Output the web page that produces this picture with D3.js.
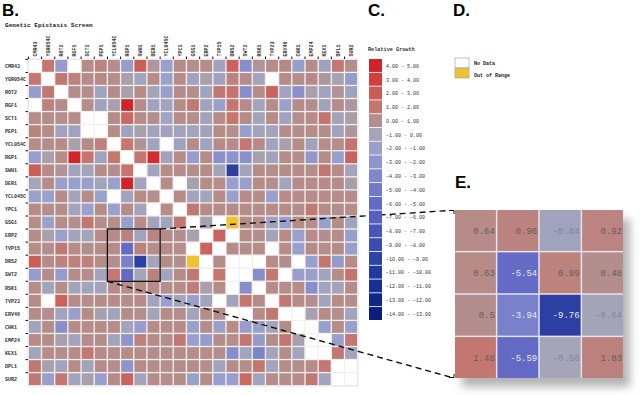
<!DOCTYPE html>
<html>
<head>
<meta charset="utf-8">
<script src="https://cdn.jsdelivr.net/npm/d3@7/dist/d3.min.js"></script>
<style>
  body { margin: 0; background: #fff; }
  svg { display: block; }
  text { font-family: "Liberation Mono", "DejaVu Sans Mono", monospace; }
  .panel { font-family: "Liberation Sans", Arial, sans-serif; font-weight: bold; font-size: 17px; }
</style>
</head>
<body>
<svg id="chart" width="640" height="395"></svg>
<script>
// gene names (rows and columns are the same list)
const genes = ["CMR43", "YGR054C", "ROT2", "RGF1", "SCT1", "PEP1", "YCL054C", "RGP1",
  "SWH1", "DER1", "YCL045C", "YPC1", "GSG1", "ERP2", "TVP15", "DRS2", "SWT2", "RSK1",
  "TVP23", "ERV46", "CHK1", "EMP24", "KEX1", "DPL1", "SUR2"];

// relative growth, null = no data, "OOR" = out of range
const growth = [
  [null, 1.5, -1.8, null, 0.6, 0.9, 0.5, -1.8, 2.4, 0.1, -1.5, 0.6, 0.5, 0.6, -0.9, 2.2, -3.0, 0.2, 0.6, 0.7, -1.6, 0.6, -0.9, 1.4, 0.5],
  [1.5, null, 1.4, 1.0, 0.6, 0.7, 0.5, -0.3, -0.8, 0.6, -1.4, 0.6, -0.9, -0.3, -0.9, 1.0, 0.6, -0.8, null, 0.6, 0.5, 0.7, 0.1, -0.4, -1.9],
  [-1.8, 1.4, null, 0.6, 0.5, -0.9, 0.6, -0.3, 0.6, -0.7, -1.5, 0.6, 0.5, -1.0, 1.4, 1.6, -3.0, 0.6, 2.2, -0.9, -2.8, -0.3, -0.9, 0.2, -0.9],
  [null, 1.0, 0.6, null, 0.5, -0.9, -0.3, 4.6, 0.6, -0.9, -1.0, 0.6, 1.4, -0.9, -1.5, 1.5, 0.6, -0.7, 0.6, -1.5, 0.6, 0.5, -0.9, 0.6, 0.1],
  [0.6, 0.6, 0.5, 0.6, null, null, 0.6, 2.0, 0.6, 0.5, -1.0, 0.6, 0.5, -0.9, 0.6, 1.5, 0.6, -0.7, 0.6, -0.9, 0.5, 0.6, 1.6, -0.7, -0.2],
  [1.0, 0.6, -0.9, -0.9, null, null, 0.6, -0.9, -0.3, -0.9, -0.9, -0.9, -0.8, -0.9, 0.6, 0.5, -1.6, -0.9, -0.8, 0.6, 0.5, 0.6, 0.6, -0.9, 0.1],
  [0.6, 0.5, 0.6, -0.3, 0.6, 1.0, null, 1.5, 0.2, -0.9, null, -0.9, 0.6, -0.9, 0.6, 0.5, 1.5, 0.6, -0.9, -0.3, 0.6, -0.9, 0.6, 0.5, 1.6],
  [-1.6, -0.3, 0.6, 4.6, 1.5, -0.9, 1.5, null, 1.5, 4.2, -0.9, 0.6, -1.8, 0.6, -2.8, -2.6, -2.8, -0.3, -0.9, 0.6, 0.5, -2.2, 0.6, -1.6, 2.2],
  [2.4, 0.6, 0.2, -0.8, -0.8, 0.6, 0.5, 1.5, null, -0.8, 0.6, 0.6, 0.5, 0.6, -0.8, -9.8, -0.8, 0.6, 0.5, 0.6, 0.6, 0.5, 1.4, 0.6, -0.8],
  [-0.6, 0.6, -1.5, -1.5, -1.5, -0.8, -1.5, 4.5, -0.8, null, 0.6, null, -0.3, 0.6, 0.5, -1.6, -1.5, 0.6, 0.5, -0.8, 0.6, 0.5, 0.6, 0.6, -0.2],
  [-1.5, -1.5, 0.6, -0.8, 0.6, -1.5, null, -0.8, 0.6, 0.5, null, 0.6, -0.8, -0.8, 0.6, -1.5, 0.6, 0.5, -1.5, 0.6, 0.5, 0.6, 0.6, 0.5, 0.6],
  [0.6, 0.5, 0.6, -0.8, -1.5, 0.6, -1.5, 0.6, -0.8, null, 0.6, null, 1.4, 0.6, 0.5, 0.6, 0.6, 0.5, 0.6, 0.6, 0.5, 1.3, 0.6, 0.5, 0.6],
  [0.6, -1.5, 0.6, 0.5, 1.4, 0.6, 0.5, -1.6, 0.6, -0.8, -0.8, 1.4, null, -0.3, null, "OOR", 0.6, 0.5, -0.9, -1.5, 0.6, 0.5, -1.6, 0.6, -0.8],
  [0.6, -0.3, -1.5, -0.8, -0.8, 0.6, 0.64, 0.96, -0.84, 0.92, 0.6, 0.5, -0.3, null, 2.2, null, 0.6, 0.5, -0.8, 0.6, -1.5, 0.6, 0.5, 0.6, -1.6],
  [0.6, 0.5, 1.4, 0.6, 0.5, 0.6, 0.63, -5.54, 0.99, 0.48, 0.6, 0.5, null, 2.2, null, 0.6, 0.5, 0.6, null, 0.6, -1.5, 0.6, 0.5, 0.6, -1.6],
  [2.4, 0.6, 1.0, 1.0, 1.0, 0.6, 0.5, -3.94, -9.76, -0.64, 0.6, 0.5, "OOR", null, 0.6, null, null, null, 0.6, 0.5, null, -1.5, 1.5, -2.0, 0.6],
  [-1.8, 0.6, -1.8, 0.6, 0.5, -0.8, 1.48, -5.59, -0.56, 1.03, -0.8, 0.6, 1.4, null, 1.5, null, null, -3.0, 1.5, null, -1.6, -1.5, -0.8, 0.6, 1.6],
  [0.6, -0.8, 0.6, -0.8, -0.8, -0.7, 0.6, 0.5, 0.6, 0.6, 0.5, 0.6, 1.2, -0.3, 0.6, null, -3.0, null, 0.6, 0.5, 0.6, -3.0, -0.8, -0.8, 0.6],
  [0.6, null, 2.2, 0.6, 0.5, 0.6, 0.6, 0.5, 0.6, -0.8, -1.5, -0.8, -1.6, -0.8, null, -0.8, 1.5, 0.6, null, 1.4, 0.6, 0.5, -0.8, 0.6, 0.5],
  [0.6, 0.5, -0.8, -1.6, 0.6, -0.3, -0.8, 0.6, 0.5, -0.8, 0.6, 0.5, -0.8, 0.6, 0.5, null, null, 0.6, 1.4, null, null, -0.3, 0.6, 0.5, -0.8],
  [-0.8, 0.6, -3.0, 0.6, 0.5, 0.6, 0.6, -0.8, -1.8, 0.6, 0.5, 0.6, -1.5, 0.6, -1.5, 0.6, -1.6, -1.5, -0.8, 0.6, null, null, -1.6, 0.6, -1.5],
  [0.6, 0.5, -0.3, -0.8, 0.6, 0.5, -0.8, -2.5, 1.0, 0.6, 0.5, 1.4, -1.5, -1.8, 0.6, 0.5, 1.4, -2.0, 0.6, 1.4, -0.3, null, null, -1.6, 1.5],
  [-0.8, 0.6, 0.5, 0.6, 1.4, 0.6, 0.5, 0.6, 0.6, 0.5, 0.6, 0.6, 0.5, 0.6, 0.5, -3.0, -0.8, -3.8, -0.8, 0.6, -0.8, null, null, 1.4, -0.8],
  [1.4, -0.3, -0.8, 0.6, -0.8, 0.6, 0.5, -2.5, 0.6, 0.6, 0.5, 0.6, 0.6, 0.5, -0.8, 0.6, 0.5, 1.5, -0.8, 0.6, 0.5, 0.6, 1.4, null, null],
  [1.4, -1.6, 1.4, -0.8, -0.3, -1.6, 0.6, 2.2, -0.8, 0.6, 0.5, 0.6, -1.5, 0.6, -1.6, -1.6, 2.0, -0.8, 0.6, 0.5, 0.6, 1.4, -0.8, null, null]
];

// legend bins (top to bottom)
const binLow = [4, 3, 2, 1, 0, -1, -2, -3, -4, -5, -6, -7, -8, -9, -10, -11, -12, -13, -14];
const binColors = ["#d2232a", "#d33f3f", "#cd5b55", "#c4766f", "#b48e8c", "#a5a5b5", "#9aa0cc",
  "#8e94cc", "#8088cc", "#7279c9", "#646bc4", "#575fc0", "#4a55b8", "#3d4cb0", "#2f43a6",
  "#24399c", "#1a2f92", "#122688", "#0c1e80"];

// zoomed block (panel E)
const zoomRows = ["ERP2", "TVP15", "DRS2", "SWT2"];
const zoomCols = ["YCL054C", "RGP1", "SWH1", "DER1"];

const svg = d3.select("#chart");
const fmt = d3.format(".2f");

// colour scale through bin midpoints
const color = d3.scaleLinear()
  .domain(binLow.map(d => d + 0.5))
  .range(binColors)
  .clamp(true);

function cellFill(v) {
  if (v === null) return "#ffffff";
  if (v === "OOR") return "#f0c22e";
  return color(v);
}

// ---------- panel B : matrix ----------
const x = d3.scaleBand().domain(genes).range([29, 357]).paddingInner(0.1);
const y = d3.scaleBand().domain(genes).range([60, 385]).paddingInner(0.1);

svg.append("text").attr("class", "panel").attr("x", 2).attr("y", 16).text("B.");
svg.append("text").attr("x", 5).attr("y", 27).attr("font-size", 6.1)
  .attr("font-weight", "bold").attr("fill", "#222").text("Genetic Epistasis Screen");

const cells = [];
growth.forEach((row, i) => row.forEach((v, j) => cells.push({ r: genes[i], c: genes[j], v })));

svg.append("rect")
  .attr("x", 28).attr("y", 59).attr("width", 330).attr("height", 327)
  .attr("fill", "#f4f0f0").attr("stroke", "#d8d4d4").attr("stroke-width", 0.6);

svg.append("g").selectAll("rect")
  .data(cells)
  .enter()
  .append("rect")
  .attr("x", d => x(d.c))
  .attr("y", d => y(d.r))
  .attr("width", x.bandwidth())
  .attr("height", y.bandwidth())
  .attr("fill", d => cellFill(d.v));

// row labels + ticks
svg.append("g").selectAll("text")
  .data(genes).enter().append("text")
  .attr("x", 5).attr("y", d => y(d) + y.bandwidth() / 2)
  .attr("dy", "0.35em").attr("font-size", 5).attr("font-weight", "bold").attr("fill", "#333")
  .text(d => d);
svg.append("g").selectAll("line")
  .data(genes).enter().append("line")
  .attr("x1", 25.5).attr("x2", 28)
  .attr("y1", d => y(d) - 0.6).attr("y2", d => y(d) - 0.6)
  .attr("stroke", "#111").attr("stroke-width", 1);

// column labels + ticks
svg.append("g").selectAll("text")
  .data(genes).enter().append("text")
  .attr("transform", d => `translate(${x(d) + x.bandwidth() / 2},56.5) rotate(-90)`)
  .attr("dy", "0.35em").attr("font-size", 5).attr("font-weight", "bold").attr("fill", "#333")
  .text(d => d);
svg.append("g").selectAll("line")
  .data(genes).enter().append("line")
  .attr("x1", d => x(d) - 0.6).attr("x2", d => x(d) - 0.6)
  .attr("y1", 56.5).attr("y2", 59)
  .attr("stroke", "#111").attr("stroke-width", 1);

// highlight box
const bx0 = x(zoomCols[0]) - 0.7;
const bx1 = x(zoomCols[3]) + x.bandwidth() + 0.7;
const by0 = y(zoomRows[0]) - 0.7;
const by1 = y(zoomRows[3]) + y.bandwidth() + 0.7;
svg.append("rect")
  .attr("x", bx0).attr("y", by0).attr("width", bx1 - bx0).attr("height", by1 - by0)
  .attr("fill", "none").attr("stroke", "#111").attr("stroke-width", 1.4);

// ---------- panel E : zoom ----------
const ex = d3.scaleBand().domain(zoomCols).range([455, 623]).paddingInner(0.035);
const ey = d3.scaleBand().domain(zoomRows).range([210, 378]).paddingInner(0.035);

// dashed connectors
const conn = svg.append("g").attr("fill", "none").attr("stroke", "#111")
  .attr("stroke-width", 1.4).attr("stroke-dasharray", "6,4");
conn.append("line").attr("x1", bx1).attr("y1", by0).attr("x2", 450).attr("y2", 210.5);
conn.append("line").attr("x1", bx0).attr("y1", by1).attr("x2", 450).attr("y2", 377);
svg.append("path")
  .attr("d", "M449,210.5H454V214 M449,377.5H454V374")
  .attr("fill", "none").attr("stroke", "#111").attr("stroke-width", 1);

svg.append("text").attr("class", "panel").attr("x", 455).attr("y", 188).text("E.");

const defs = svg.append("defs");
const f = defs.append("filter").attr("id", "shadow")
  .attr("x", "-10%").attr("y", "-10%").attr("width", "130%").attr("height", "130%");
f.append("feDropShadow").attr("dx", 7).attr("dy", 9).attr("stdDeviation", 4)
  .attr("flood-color", "#777").attr("flood-opacity", 0.55);

svg.append("rect")
  .attr("x", 455).attr("y", 210).attr("width", 168).attr("height", 168)
  .attr("fill", "#e8e4ee").attr("filter", "url(#shadow)");

const zcells = [];
zoomRows.forEach(r => zoomCols.forEach(c => {
  zcells.push({ r, c, v: growth[genes.indexOf(r)][genes.indexOf(c)] });
}));

const zg = svg.append("g").selectAll("g").data(zcells).enter().append("g");
zg.append("rect")
  .attr("x", d => ex(d.c)).attr("y", d => ey(d.r))
  .attr("width", ex.bandwidth()).attr("height", ey.bandwidth())
  .attr("fill", d => cellFill(d.v));
zg.append("text")
  .attr("x", d => ex(d.c) + ex.bandwidth() - 1)
  .attr("y", d => ey(d.r) + ey.bandwidth() / 2)
  .attr("dy", "0.35em").attr("text-anchor", "end").attr("font-size", 9)
  .attr("fill", d => d.v < -3 ? "#e8eaf8" : (d.v < 0 ? "#7c84a8" : "#6a5a5a"))
  .text(d => String(d.v));

// ---------- panel C : legend ----------
svg.append("text").attr("class", "panel").attr("x", 368).attr("y", 16).text("C.");
svg.append("text").attr("x", 368).attr("y", 51).attr("font-size", 5.2)
  .attr("font-weight", "bold").attr("fill", "#333").text("Relative Growth");

const ly = d3.scaleBand().domain(binLow).range([59, 320]).paddingInner(0.06);
const lg = svg.append("g").selectAll("g").data(binLow).enter().append("g");
lg.append("rect")
  .attr("x", 369).attr("y", d => ly(d)).attr("width", 13).attr("height", ly.bandwidth())
  .attr("fill", (d, i) => binColors[i]);
lg.append("text")
  .attr("x", 386).attr("y", d => ly(d) + ly.bandwidth() / 2 + 0.5)
  .attr("dy", "0.35em").attr("font-size", 5).attr("fill", "#333")
  .text(d => `${fmt(d)} - ${fmt(d + 1)}`);

// ---------- panel D : special values ----------
svg.append("text").attr("class", "panel").attr("x", 453).attr("y", 16).text("D.");
const special = [
  { label: "No Data", fill: "#ffffff" },
  { label: "Out of Range", fill: "#f0c22e" }
];
const sg = svg.append("g").selectAll("g").data(special).enter().append("g");
sg.append("rect")
  .attr("x", 455).attr("y", (d, i) => 58 + i * 10).attr("width", 14).attr("height", 10)
  .attr("fill", d => d.fill).attr("stroke", "#999").attr("stroke-width", 0.6);
sg.append("text")
  .attr("x", 474).attr("y", (d, i) => 63 + i * 12.5)
  .attr("dy", "0.35em").attr("font-size", 5).attr("font-weight", "bold").attr("fill", "#222")
  .text(d => d.label);
</script>
</body>
</html>
